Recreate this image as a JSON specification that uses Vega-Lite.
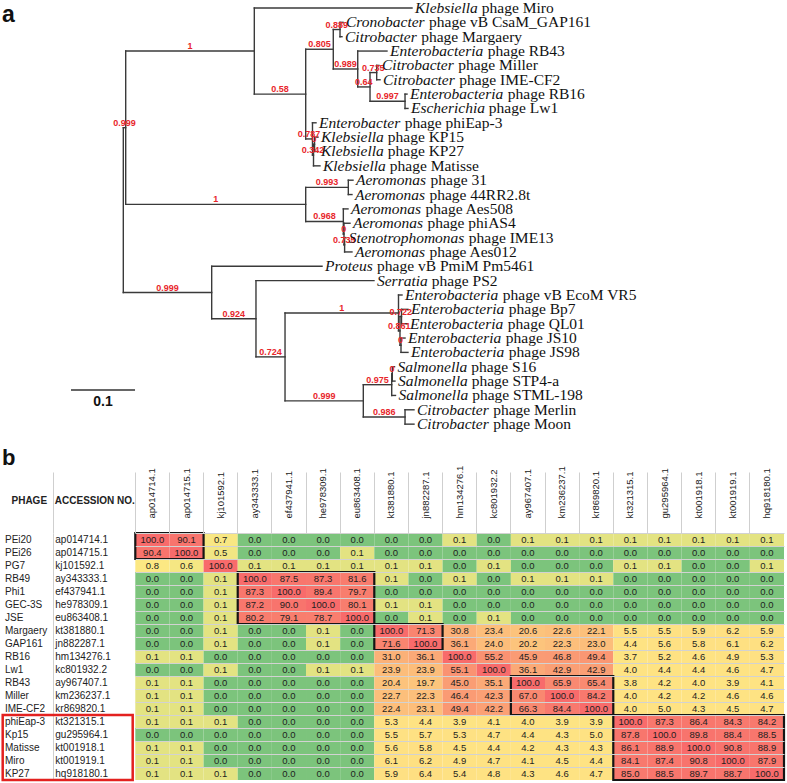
{
"$schema": "https://vega.github.io/schema/vega-lite/v6.json",
"padding": 0,
"background": "white",
"bounds": "flush",
"spacing": 93,
"config": {"view": {"stroke": null}, "font": "Liberation Sans"},
"datasets": {
"br": [
{"p":"R","px":0,"cx":0.00375,"cy":8.34,"b":"0.999"},
{"p":"R","px":0,"cx":0.1381,"cy":19.83,"b":"0.999"},
{"p":"A","px":0.00375,"cx":0.2047,"cy":3,"b":"1"},
{"p":"A","px":0.00375,"cx":0.285,"cy":13.6875,"b":"1"},
{"p":"C","px":0.2047,"cx":0.4511,"cy":0,"g":"Klebsiella","n":"phage Miro"},
{"p":"C","px":0.2047,"cx":0.285,"cy":6,"b":"0.58"},
{"p":"D","px":0.285,"cx":0.3281,"cy":2.875,"b":"0.805"},
{"p":"D","px":0.285,"cx":0.2956,"cy":9.125,"b":"0.787"},
{"p":"E","px":0.3281,"cx":0.3386,"cy":1.5,"b":"0.889"},
{"p":"E","px":0.3281,"cx":0.3663,"cy":4.25,"b":"0.989"},
{"p":"F","px":0.3386,"cx":0.3433,"cy":1,"g":"Cronobacter","n":"phage vB CsaM_GAP161"},
{"p":"F","px":0.3386,"cx":0.3417,"cy":2,"g":"Citrobacter","n":"phage Margaery"},
{"p":"G","px":0.3663,"cx":0.412,"cy":3,"g":"Enterobacteria","n":"phage RB43"},
{"p":"G","px":0.3663,"cx":0.3855,"cy":5.5,"b":"0.64"},
{"p":"I","px":0.3855,"cx":0.3959,"cy":4.5,"b":"0.735"},
{"p":"I","px":0.3855,"cx":0.4402,"cy":6.5,"b":"0.997"},
{"p":"M","px":0.3959,"cx":0.3995,"cy":4,"g":"Citrobacter","n":"phage Miller"},
{"p":"M","px":0.3959,"cx":0.4011,"cy":5,"g":"Citrobacter","n":"phage IME-CF2"},
{"p":"J","px":0.4402,"cx":0.4433,"cy":6,"g":"Enterobacteria","n":"phage RB16"},
{"p":"J","px":0.4402,"cx":0.4448,"cy":7,"g":"Escherichia","n":"phage Lw1"},
{"p":"K","px":0.2956,"cx":0.3011,"cy":8,"g":"Enterobacter","n":"phage phiEap-3"},
{"p":"K","px":0.2956,"cx":0.2972,"cy":10.25,"b":"0.342"},
{"p":"K2","px":0.2972,"cx":0.2988,"cy":9.5,"b":"0"},
{"p":"K2","px":0.2972,"cx":0.3073,"cy":11,"g":"Klebsiella","n":"phage Matisse"},
{"p":"K3","px":0.2988,"cx":0.3042,"cy":9,"g":"Klebsiella","n":"phage KP15"},
{"p":"K3","px":0.2988,"cx":0.3042,"cy":10,"g":"Klebsiella","n":"phage KP27"},
{"p":"Aer","px":0.285,"cx":0.3516,"cy":12.5,"b":"0.993"},
{"p":"Aer","px":0.285,"cx":0.3438,"cy":14.875,"b":"0.968"},
{"p":"P","px":0.3516,"cx":0.3589,"cy":12,"g":"Aeromonas","n":"phage 31"},
{"p":"P","px":0.3516,"cx":0.3573,"cy":13,"g":"Aeromonas","n":"phage 44RR2.8t"},
{"p":"Q","px":0.3438,"cx":0.3511,"cy":14,"g":"Aeromonas","n":"phage Aes508"},
{"p":"Q","px":0.3438,"cx":0.3448,"cy":15.75,"b":"0"},
{"p":"Q2","px":0.3448,"cx":0.3542,"cy":15,"g":"Aeromonas","n":"phage phiAS4"},
{"p":"Q2","px":0.3448,"cx":0.3458,"cy":16.5,"b":"0.735"},
{"p":"Q3","px":0.3458,"cx":0.3475,"cy":16,"g":"Stenotrophomonas","n":"phage IME13"},
{"p":"Q3","px":0.3458,"cx":0.3573,"cy":17,"g":"Aeromonas","n":"phage Aes012"},
{"p":"B","px":0.1381,"cx":0.3105,"cy":18,"g":"Proteus","n":"phage vB PmiM Pm5461"},
{"p":"B","px":0.1381,"cx":0.2073,"cy":21.656,"b":"0.924"},
{"p":"N","px":0.2073,"cx":0.3917,"cy":19,"g":"Serratia","n":"phage PS2"},
{"p":"N","px":0.2073,"cx":0.2527,"cy":24.3125,"b":"0.724"},
{"p":"O","px":0.2527,"cx":0.43,"cy":21.25,"b":"1"},
{"p":"O","px":0.2527,"cx":0.375,"cy":27.375,"b":"0.999"},
{"p":"T","px":0.43,"cx":0.4355,"cy":20,"g":"Enterobacteria","n":"phage vB EcoM VR5"},
{"p":"T","px":0.43,"cx":0.4323,"cy":22.5,"b":"0.861"},
{"p":"T2","px":0.4323,"cx":0.4347,"cy":21.5,"b":"0.722"},
{"p":"T2","px":0.4323,"cx":0.4339,"cy":23.5,"b":"0"},
{"p":"T3","px":0.4347,"cx":0.4448,"cy":21,"g":"Enterobacteria","n":"phage Bp7"},
{"p":"T3","px":0.4347,"cx":0.4433,"cy":22,"g":"Enterobacteria","n":"phage QL01"},
{"p":"T4","px":0.4339,"cx":0.4402,"cy":23,"g":"Enterobacteria","n":"phage JS10"},
{"p":"T4","px":0.4339,"cx":0.4448,"cy":24,"g":"Enterobacteria","n":"phage JS98"},
{"p":"S","px":0.375,"cx":0.4194,"cy":26.25,"b":"0.975"},
{"p":"S","px":0.375,"cx":0.4402,"cy":28.5,"b":"0.986"},
{"p":"Sal","px":0.4194,"cx":0.4203,"cy":25.5,"b":"0"},
{"p":"Sal","px":0.4194,"cx":0.4253,"cy":27,"g":"Salmonella","n":"phage STML-198"},
{"p":"Sal2","px":0.4203,"cx":0.4238,"cy":25,"g":"Salmonella","n":"phage S16"},
{"p":"Sal2","px":0.4203,"cx":0.4245,"cy":26,"g":"Salmonella","n":"phage STP4-a"},
{"p":"Cit","px":0.4402,"cx":0.4542,"cy":28,"g":"Citrobacter","n":"phage Merlin"},
{"p":"Cit","px":0.4402,"cx":0.4542,"cy":29,"g":"Citrobacter","n":"phage Moon"}
],
"sb": [{"x1":-0.0817,"x2":0.0183,"y":26.62,"t":"0.1"}],
"ann": [{"t":"a","x":-0.1895,"y":0.955}],
"heat": [
{"r":"PEi20","a":"ap014714.1","ap014714_1":100,"ap014715_1":90.1,"kj101592_1":0.7,"ay343333_1":0,"ef437941_1":0,"he978309_1":0,"eu863408_1":0,"kt381880_1":0,"jn882287_1":0,"hm134276_1":0.1,"kc801932_2":0,"ay967407_1":0.1,"km236237_1":0.1,"kr869820_1":0.1,"kt321315_1":0.1,"gu295964_1":0.1,"kt001918_1":0.1,"kt001919_1":0.1,"hq918180_1":0.1},
{"r":"PEi26","a":"ap014715.1","ap014714_1":90.4,"ap014715_1":100,"kj101592_1":0.5,"ay343333_1":0,"ef437941_1":0,"he978309_1":0,"eu863408_1":0.1,"kt381880_1":0,"jn882287_1":0,"hm134276_1":0,"kc801932_2":0,"ay967407_1":0,"km236237_1":0,"kr869820_1":0,"kt321315_1":0,"gu295964_1":0,"kt001918_1":0,"kt001919_1":0,"hq918180_1":0},
{"r":"PG7","a":"kj101592.1","ap014714_1":0.8,"ap014715_1":0.6,"kj101592_1":100,"ay343333_1":0.1,"ef437941_1":0.1,"he978309_1":0.1,"eu863408_1":0.1,"kt381880_1":0.1,"jn882287_1":0.1,"hm134276_1":0,"kc801932_2":0.1,"ay967407_1":0,"km236237_1":0,"kr869820_1":0,"kt321315_1":0.1,"gu295964_1":0.1,"kt001918_1":0,"kt001919_1":0,"hq918180_1":0.1},
{"r":"RB49","a":"ay343333.1","ap014714_1":0,"ap014715_1":0,"kj101592_1":0.1,"ay343333_1":100,"ef437941_1":87.5,"he978309_1":87.3,"eu863408_1":81.6,"kt381880_1":0.1,"jn882287_1":0,"hm134276_1":0.1,"kc801932_2":0,"ay967407_1":0.1,"km236237_1":0.1,"kr869820_1":0.1,"kt321315_1":0,"gu295964_1":0,"kt001918_1":0,"kt001919_1":0,"hq918180_1":0},
{"r":"Phi1","a":"ef437941.1","ap014714_1":0,"ap014715_1":0,"kj101592_1":0.1,"ay343333_1":87.3,"ef437941_1":100,"he978309_1":89.4,"eu863408_1":79.7,"kt381880_1":0,"jn882287_1":0,"hm134276_1":0,"kc801932_2":0,"ay967407_1":0,"km236237_1":0,"kr869820_1":0,"kt321315_1":0,"gu295964_1":0,"kt001918_1":0,"kt001919_1":0,"hq918180_1":0},
{"r":"GEC-3S","a":"he978309.1","ap014714_1":0,"ap014715_1":0,"kj101592_1":0.1,"ay343333_1":87.2,"ef437941_1":90,"he978309_1":100,"eu863408_1":80.1,"kt381880_1":0.1,"jn882287_1":0.1,"hm134276_1":0,"kc801932_2":0,"ay967407_1":0,"km236237_1":0,"kr869820_1":0,"kt321315_1":0,"gu295964_1":0,"kt001918_1":0,"kt001919_1":0,"hq918180_1":0},
{"r":"JSE","a":"eu863408.1","ap014714_1":0,"ap014715_1":0,"kj101592_1":0.1,"ay343333_1":80.2,"ef437941_1":79.1,"he978309_1":78.7,"eu863408_1":100,"kt381880_1":0,"jn882287_1":0.1,"hm134276_1":0,"kc801932_2":0.1,"ay967407_1":0,"km236237_1":0,"kr869820_1":0,"kt321315_1":0,"gu295964_1":0,"kt001918_1":0,"kt001919_1":0,"hq918180_1":0},
{"r":"Margaery","a":"kt381880.1","ap014714_1":0,"ap014715_1":0,"kj101592_1":0.1,"ay343333_1":0,"ef437941_1":0,"he978309_1":0.1,"eu863408_1":0,"kt381880_1":100,"jn882287_1":71.3,"hm134276_1":30.8,"kc801932_2":23.4,"ay967407_1":20.6,"km236237_1":22.6,"kr869820_1":22.1,"kt321315_1":5.5,"gu295964_1":5.5,"kt001918_1":5.9,"kt001919_1":6.2,"hq918180_1":5.9},
{"r":"GAP161","a":"jn882287.1","ap014714_1":0,"ap014715_1":0,"kj101592_1":0.1,"ay343333_1":0,"ef437941_1":0,"he978309_1":0.1,"eu863408_1":0,"kt381880_1":71.6,"jn882287_1":100,"hm134276_1":36.1,"kc801932_2":24,"ay967407_1":20.2,"km236237_1":22.3,"kr869820_1":23,"kt321315_1":4.4,"gu295964_1":5.6,"kt001918_1":5.8,"kt001919_1":6.1,"hq918180_1":6.2},
{"r":"RB16","a":"hm134276.1","ap014714_1":0.1,"ap014715_1":0.1,"kj101592_1":0,"ay343333_1":0,"ef437941_1":0,"he978309_1":0,"eu863408_1":0,"kt381880_1":31,"jn882287_1":36.1,"hm134276_1":100,"kc801932_2":55.2,"ay967407_1":45.9,"km236237_1":46.8,"kr869820_1":49.4,"kt321315_1":3.7,"gu295964_1":5.2,"kt001918_1":4.6,"kt001919_1":4.9,"hq918180_1":5.3},
{"r":"Lw1","a":"kc801932.2","ap014714_1":0,"ap014715_1":0,"kj101592_1":0.1,"ay343333_1":0,"ef437941_1":0,"he978309_1":0.1,"eu863408_1":0.1,"kt381880_1":23.9,"jn882287_1":23.9,"hm134276_1":55.1,"kc801932_2":100,"ay967407_1":36.1,"km236237_1":42.9,"kr869820_1":42.9,"kt321315_1":4,"gu295964_1":4.4,"kt001918_1":4.4,"kt001919_1":4.6,"hq918180_1":4.7},
{"r":"RB43","a":"ay967407.1","ap014714_1":0.1,"ap014715_1":0.1,"kj101592_1":0,"ay343333_1":0,"ef437941_1":0,"he978309_1":0,"eu863408_1":0,"kt381880_1":20.4,"jn882287_1":19.7,"hm134276_1":45,"kc801932_2":35.1,"ay967407_1":100,"km236237_1":65.9,"kr869820_1":65.4,"kt321315_1":3.8,"gu295964_1":4.2,"kt001918_1":4,"kt001919_1":3.9,"hq918180_1":4.1},
{"r":"Miller","a":"km236237.1","ap014714_1":0.1,"ap014715_1":0.1,"kj101592_1":0,"ay343333_1":0,"ef437941_1":0,"he978309_1":0,"eu863408_1":0,"kt381880_1":22.7,"jn882287_1":22.3,"hm134276_1":46.4,"kc801932_2":42.3,"ay967407_1":67,"km236237_1":100,"kr869820_1":84.2,"kt321315_1":4,"gu295964_1":4.2,"kt001918_1":4.2,"kt001919_1":4.6,"hq918180_1":4.6},
{"r":"IME-CF2","a":"kr869820.1","ap014714_1":0.1,"ap014715_1":0.1,"kj101592_1":0,"ay343333_1":0,"ef437941_1":0,"he978309_1":0,"eu863408_1":0,"kt381880_1":22.4,"jn882287_1":23.1,"hm134276_1":49.4,"kc801932_2":42.2,"ay967407_1":66.3,"km236237_1":84.4,"kr869820_1":100,"kt321315_1":4,"gu295964_1":5,"kt001918_1":4.3,"kt001919_1":4.5,"hq918180_1":4.7},
{"r":"phiEap-3","a":"kt321315.1","ap014714_1":0.1,"ap014715_1":0.1,"kj101592_1":0.1,"ay343333_1":0,"ef437941_1":0,"he978309_1":0,"eu863408_1":0,"kt381880_1":5.3,"jn882287_1":4.4,"hm134276_1":3.9,"kc801932_2":4.1,"ay967407_1":4,"km236237_1":3.9,"kr869820_1":3.9,"kt321315_1":100,"gu295964_1":87.3,"kt001918_1":86.4,"kt001919_1":84.3,"hq918180_1":84.2},
{"r":"Kp15","a":"gu295964.1","ap014714_1":0,"ap014715_1":0,"kj101592_1":0,"ay343333_1":0,"ef437941_1":0,"he978309_1":0,"eu863408_1":0,"kt381880_1":5.5,"jn882287_1":5.7,"hm134276_1":5.3,"kc801932_2":4.7,"ay967407_1":4.4,"km236237_1":4.3,"kr869820_1":5,"kt321315_1":87.8,"gu295964_1":100,"kt001918_1":89.8,"kt001919_1":88.4,"hq918180_1":88.5},
{"r":"Matisse","a":"kt001918.1","ap014714_1":0.1,"ap014715_1":0.1,"kj101592_1":0,"ay343333_1":0,"ef437941_1":0,"he978309_1":0,"eu863408_1":0,"kt381880_1":5.6,"jn882287_1":5.8,"hm134276_1":4.5,"kc801932_2":4.4,"ay967407_1":4.2,"km236237_1":4.3,"kr869820_1":4.3,"kt321315_1":86.1,"gu295964_1":88.9,"kt001918_1":100,"kt001919_1":90.8,"hq918180_1":88.9},
{"r":"Miro","a":"kt001919.1","ap014714_1":0.1,"ap014715_1":0.1,"kj101592_1":0,"ay343333_1":0,"ef437941_1":0,"he978309_1":0,"eu863408_1":0,"kt381880_1":6.1,"jn882287_1":6.2,"hm134276_1":4.9,"kc801932_2":4.7,"ay967407_1":4.1,"km236237_1":4.5,"kr869820_1":4.4,"kt321315_1":84.1,"gu295964_1":87.4,"kt001918_1":90.8,"kt001919_1":100,"hq918180_1":87.9},
{"r":"KP27","a":"hq918180.1","ap014714_1":0.1,"ap014715_1":0.1,"kj101592_1":0.1,"ay343333_1":0,"ef437941_1":0,"he978309_1":0,"eu863408_1":0,"kt381880_1":5.9,"jn882287_1":6.4,"hm134276_1":5.4,"kc801932_2":4.8,"ay967407_1":4.3,"km236237_1":4.6,"kr869820_1":4.7,"kt321315_1":85,"gu295964_1":88.5,"kt001918_1":89.7,"kt001919_1":88.7,"hq918180_1":100}
],
"blocks": [
{"r1":"PEi20","r2":"PEi26","c1":"ap014714_1","c2":"ap014715_1"},
{"r1":"RB49","r2":"JSE","c1":"ay343333_1","c2":"eu863408_1"},
{"r1":"Margaery","r2":"GAP161","c1":"kt381880_1","c2":"jn882287_1"},
{"r1":"RB43","r2":"IME-CF2","c1":"ay967407_1","c2":"kr869820_1"},
{"r1":"phiEap-3","r2":"KP27","c1":"kt321315_1","c2":"hq918180_1"}
]
},
"vconcat": [
{
"width": 787, "height": 440,
"data": {"name": "br"},
"layer": [
{"mark": {"type": "rule", "color": "#3a3a3a", "strokeWidth": 1.4, "strokeCap": "square"},
 "encoding": {"x": {"field": "px", "type": "quantitative", "scale": {"domain": [-0.19266, 1.03703], "nice": false, "zero": false}, "axis": null},
  "x2": {"field": "cx"},
  "y": {"field": "cy", "type": "quantitative", "scale": {"domain": [-0.5575, 30.105], "nice": false, "zero": false, "reverse": true}, "axis": null}}},
{"transform": [{"aggregate": [{"op": "min", "field": "cy", "as": "y1"}, {"op": "max", "field": "cy", "as": "y2"}], "groupby": ["p", "px"]}],
 "mark": {"type": "rule", "color": "#3a3a3a", "strokeWidth": 1.4, "strokeCap": "square"},
 "encoding": {"x": {"field": "px", "type": "quantitative"}, "y": {"field": "y1", "type": "quantitative"}, "y2": {"field": "y2"}}},
{"transform": [{"filter": "datum.b"}, {"fold": ["px", "cx"], "as": ["k", "xv"]}, {"aggregate": [{"op": "mean", "field": "xv", "as": "mx"}], "groupby": ["b", "cy"]}],
 "mark": {"type": "text", "align": "center", "baseline": "middle", "dy": -5, "font": "Liberation Sans", "fontSize": 9, "fontWeight": "bold", "color": "#e8262b"},
 "encoding": {"x": {"field": "mx", "type": "quantitative"}, "y": {"field": "cy", "type": "quantitative"}, "text": {"field": "b"}}},
{"transform": [{"filter": "datum.g"}],
 "mark": {"type": "text", "align": "left", "baseline": "middle", "dx": 3, "font": "Liberation Serif", "fontSize": 15.5, "fontStyle": "italic", "color": "#111"},
 "encoding": {"x": {"field": "cx", "type": "quantitative"}, "y": {"field": "cy", "type": "quantitative"}, "text": {"field": "g"}}},
{"transform": [{"filter": {"field": "g", "equal": "Klebsiella"}}], "mark": {"type": "text", "align": "left", "baseline": "middle", "dx": 69.8, "font": "Liberation Serif", "fontSize": 15.5, "color": "#111"}, "encoding": {"x": {"field": "cx", "type": "quantitative"}, "y": {"field": "cy", "type": "quantitative"}, "text": {"field": "n"}}},
{"transform": [{"filter": {"field": "g", "equal": "Cronobacter"}}], "mark": {"type": "text", "align": "left", "baseline": "middle", "dx": 86.1, "font": "Liberation Serif", "fontSize": 15.5, "color": "#111"}, "encoding": {"x": {"field": "cx", "type": "quantitative"}, "y": {"field": "cy", "type": "quantitative"}, "text": {"field": "n"}}},
{"transform": [{"filter": {"field": "g", "equal": "Citrobacter"}}], "mark": {"type": "text", "align": "left", "baseline": "middle", "dx": 79.2, "font": "Liberation Serif", "fontSize": 15.5, "color": "#111"}, "encoding": {"x": {"field": "cx", "type": "quantitative"}, "y": {"field": "cy", "type": "quantitative"}, "text": {"field": "n"}}},
{"transform": [{"filter": {"field": "g", "equal": "Enterobacteria"}}], "mark": {"type": "text", "align": "left", "baseline": "middle", "dx": 100.8, "font": "Liberation Serif", "fontSize": 15.5, "color": "#111"}, "encoding": {"x": {"field": "cx", "type": "quantitative"}, "y": {"field": "cy", "type": "quantitative"}, "text": {"field": "n"}}},
{"transform": [{"filter": {"field": "g", "equal": "Escherichia"}}], "mark": {"type": "text", "align": "left", "baseline": "middle", "dx": 80.9, "font": "Liberation Serif", "fontSize": 15.5, "color": "#111"}, "encoding": {"x": {"field": "cx", "type": "quantitative"}, "y": {"field": "cy", "type": "quantitative"}, "text": {"field": "n"}}},
{"transform": [{"filter": {"field": "g", "equal": "Enterobacter"}}], "mark": {"type": "text", "align": "left", "baseline": "middle", "dx": 88.7, "font": "Liberation Serif", "fontSize": 15.5, "color": "#111"}, "encoding": {"x": {"field": "cx", "type": "quantitative"}, "y": {"field": "cy", "type": "quantitative"}, "text": {"field": "n"}}},
{"transform": [{"filter": {"field": "g", "equal": "Aeromonas"}}], "mark": {"type": "text", "align": "left", "baseline": "middle", "dx": 77.5, "font": "Liberation Serif", "fontSize": 15.5, "color": "#111"}, "encoding": {"x": {"field": "cx", "type": "quantitative"}, "y": {"field": "cy", "type": "quantitative"}, "text": {"field": "n"}}},
{"transform": [{"filter": {"field": "g", "equal": "Stenotrophomonas"}}], "mark": {"type": "text", "align": "left", "baseline": "middle", "dx": 123.1, "font": "Liberation Serif", "fontSize": 15.5, "color": "#111"}, "encoding": {"x": {"field": "cx", "type": "quantitative"}, "y": {"field": "cy", "type": "quantitative"}, "text": {"field": "n"}}},
{"transform": [{"filter": {"field": "g", "equal": "Proteus"}}], "mark": {"type": "text", "align": "left", "baseline": "middle", "dx": 55.1, "font": "Liberation Serif", "fontSize": 15.5, "color": "#111"}, "encoding": {"x": {"field": "cx", "type": "quantitative"}, "y": {"field": "cy", "type": "quantitative"}, "text": {"field": "n"}}},
{"transform": [{"filter": {"field": "g", "equal": "Serratia"}}], "mark": {"type": "text", "align": "left", "baseline": "middle", "dx": 57.7, "font": "Liberation Serif", "fontSize": 15.5, "color": "#111"}, "encoding": {"x": {"field": "cx", "type": "quantitative"}, "y": {"field": "cy", "type": "quantitative"}, "text": {"field": "n"}}},
{"transform": [{"filter": {"field": "g", "equal": "Salmonella"}}], "mark": {"type": "text", "align": "left", "baseline": "middle", "dx": 76.65, "font": "Liberation Serif", "fontSize": 15.5, "color": "#111"}, "encoding": {"x": {"field": "cx", "type": "quantitative"}, "y": {"field": "cy", "type": "quantitative"}, "text": {"field": "n"}}},
{"data": {"name": "sb"}, "mark": {"type": "rule", "color": "#666", "strokeWidth": 2},
 "encoding": {"x": {"field": "x1", "type": "quantitative"}, "x2": {"field": "x2"}, "y": {"field": "y", "type": "quantitative"}}},
{"data": {"name": "sb"}, "transform": [{"fold": ["x1", "x2"], "as": ["k", "xv"]}, {"aggregate": [{"op": "mean", "field": "xv", "as": "mx"}], "groupby": ["t", "y"]}],
 "mark": {"type": "text", "align": "center", "baseline": "middle", "dy": 12, "font": "Liberation Sans", "fontSize": 14, "fontWeight": "bold", "color": "#111"},
 "encoding": {"x": {"field": "mx", "type": "quantitative"}, "y": {"field": "y", "type": "quantitative"}, "text": {"field": "t"}}},
{"data": {"name": "ann"}, "mark": {"type": "text", "align": "left", "baseline": "alphabetic", "font": "Liberation Sans", "fontSize": 23, "fontWeight": "bold", "color": "#111"},
 "encoding": {"x": {"field": "x", "type": "quantitative"}, "y": {"field": "y", "type": "quantitative"}, "text": {"field": "t"}}}
]
},
{
"width": 787, "height": 247,
"title": {"text": "b", "anchor": "start", "frame": "group", "offset": -22, "dx": 2, "fontSize": 22, "fontWeight": "bold", "font": "Liberation Sans", "color": "#111", "baseline": "alphabetic"},
"resolve": {"scale": {"x": "independent"}},
"layer": [
{"data": {"name": "heat"},
 "transform": [{"fold": ["ap014714_1","ap014715_1","kj101592_1","ay343333_1","ef437941_1","he978309_1","eu863408_1","kt381880_1","jn882287_1","hm134276_1","kc801932_2","ay967407_1","km236237_1","kr869820_1","kt321315_1","gu295964_1","kt001918_1","kt001919_1","hq918180_1"], "as": ["c", "v"]}],
 "layer": [
  {"mark": {"type": "rect"},
   "encoding": {
    "x": {"field": "c", "type": "nominal", "scale": {"domain": ["ap014714_1","ap014715_1","kj101592_1","ay343333_1","ef437941_1","he978309_1","eu863408_1","kt381880_1","jn882287_1","hm134276_1","kc801932_2","ay967407_1","km236237_1","kr869820_1","kt321315_1","gu295964_1","kt001918_1","kt001919_1","hq918180_1"], "range": [135.3, 784], "paddingInner": 0, "paddingOuter": 0},
     "axis": {"orient": "top", "title": null, "domain": false, "grid": false, "bandPosition": 0, "ticks": true, "tickSize": 61, "tickColor": "#cfcfcf", "tickWidth": 1, "labelAngle": 270, "labelAlign": "left", "labelBaseline": "middle", "labelPadding": -46, "labelFont": "Liberation Sans", "labelFontSize": 9.5, "labelColor": "#222", "labelOverlap": false, "labelFlush": false, "labelExpr": "replace(datum.label, '_', '.')"}},
    "y": {"field": "r", "type": "nominal", "scale": {"domain": ["PEi20","PEi26","PG7","RB49","Phi1","GEC-3S","JSE","Margaery","GAP161","RB16","Lw1","RB43","Miller","IME-CF2","phiEap-3","Kp15","Matisse","Miro","KP27"], "paddingInner": 0, "paddingOuter": 0},
     "axis": {"orient": "left", "title": null, "labels": false, "ticks": false, "domain": false, "grid": true, "gridColor": "#d2d2d2", "gridWidth": 1, "bandPosition": 0}},
    "color": {"field": "v", "type": "quantitative", "legend": null, "scale": {"type": "linear", "domain": [0, 0.1, 0.8, 5, 22, 35, 50, 70, 88, 100], "range": ["#7cc47c", "#e3e382", "#fce883", "#fee283", "#fcc07b", "#fbaa77", "#fa9673", "#f98670", "#f8766d", "#f86b6b"], "interpolate": "rgb"}}}},
  {"mark": {"type": "text", "font": "Liberation Sans", "fontSize": 9.5, "color": "#1e1e1e", "baseline": "middle"},
   "encoding": {"x": {"field": "c", "type": "nominal"}, "y": {"field": "r", "type": "nominal"}, "text": {"field": "v", "type": "quantitative", "format": ".1f"}}},
  {"data": {"name": "blocks"}, "mark": {"type": "rect", "fill": null, "stroke": "#151515", "strokeWidth": 2.2},
   "encoding": {"x": {"field": "c1", "type": "nominal", "bandPosition": 0}, "x2": {"field": "c2", "bandPosition": 1}, "y": {"field": "r1", "type": "nominal", "bandPosition": 0}, "y2": {"field": "r2", "bandPosition": 1}}}
 ]},
{"layer": [
  {"data": {"name": "heat"}, "mark": {"type": "text", "align": "left", "baseline": "middle", "dx": -5, "font": "Liberation Sans", "fontSize": 10, "color": "#222"},
   "encoding": {"x": {"datum": "PHAGE", "type": "nominal", "scale": {"type": "point", "domain": ["PHAGE", "ACCESSION NO."], "range": [10, 53.3], "padding": 0},
     "axis": {"orient": "top", "title": null, "domain": false, "ticks": true, "tickSize": 61, "tickColor": "#cfcfcf", "tickOpacity": {"condition": {"test": "datum.value === 'PHAGE'", "value": 0}, "value": 1}, "grid": true, "gridColor": "#cfcfcf", "gridOpacity": {"condition": {"test": "datum.value === 'PHAGE'", "value": 0}, "value": 1}, "labelAngle": 0, "labelAlign": "left", "labelBaseline": "middle", "labelPadding": -28, "labelOffset": 1, "labelFont": "Liberation Sans", "labelFontSize": 10, "labelFontWeight": "bold", "labelColor": "#222", "labelOverlap": false, "labelFlush": false}},
    "y": {"field": "r", "type": "nominal"}, "text": {"field": "r"}}},
  {"data": {"name": "heat"}, "mark": {"type": "text", "align": "left", "baseline": "middle", "dx": 2, "font": "Liberation Sans", "fontSize": 10, "color": "#222"},
   "encoding": {"x": {"datum": "ACCESSION NO.", "type": "nominal"}, "y": {"field": "r", "type": "nominal"}, "text": {"field": "a"}}},
  {"data": {"values": [{"r1": "phiEap-3", "r2": "KP27"}]}, "mark": {"type": "rect", "fill": null, "stroke": "#e3211f", "strokeWidth": 2.5, "xOffset": -7.3, "x2Offset": 79.4},
   "encoding": {"x": {"datum": "PHAGE", "type": "nominal"}, "x2": {"datum": "ACCESSION NO."}, "y": {"field": "r1", "type": "nominal", "bandPosition": 0}, "y2": {"field": "r2", "bandPosition": 1}}}
 ]}
]
}
]
}
